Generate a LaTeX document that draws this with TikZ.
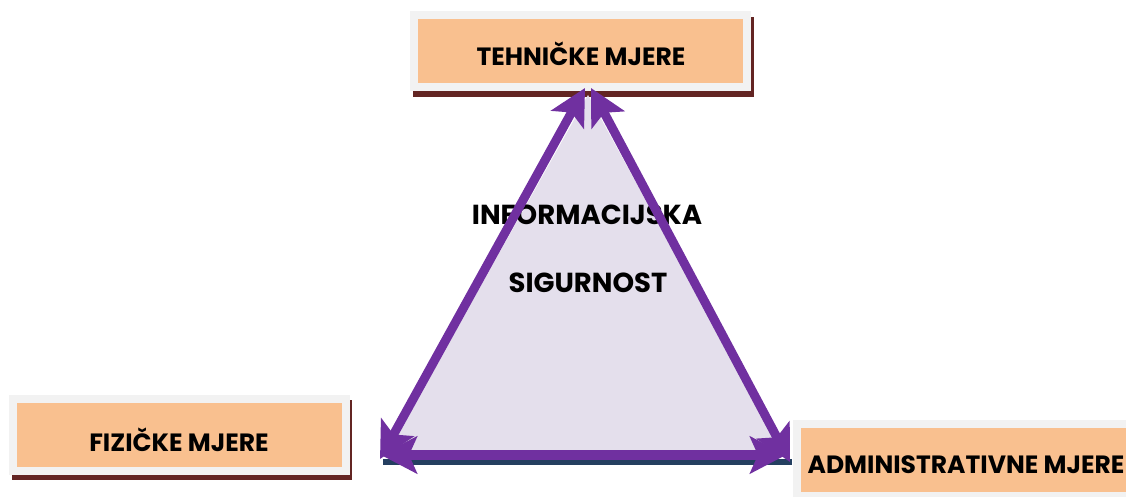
\documentclass[tikz,border=0pt]{standalone}
\usepackage{fontspec}
\setmainfont{Poppins}
\usetikzlibrary{arrows.meta}
\definecolor{boxorange}{HTML}{F9C08F}
\definecolor{boxgray}{HTML}{F2F2F2}
\definecolor{boxshadow}{HTML}{632523}
\definecolor{tripurple}{HTML}{7030A0}
\definecolor{trifill}{HTML}{E4DFEC}
\definecolor{navyshadow}{HTML}{243F60}
\tikzset{
  mbox/.style={draw=boxgray, line width=8pt, fill=boxorange, minimum width=333pt, minimum height=72pt, inner sep=0pt},
  lbl/.style={font=\bfseries\fontsize{25}{28}\selectfont, inner sep=0pt},
  bigarrow/.style={draw=tripurple, line width=9pt, {Stealth[length=36pt,width=37pt,inset=8pt]}-{Stealth[length=36pt,width=37pt,inset=8pt]}},
  midtext/.style={font=\bfseries\fontsize{27.5}{30}\selectfont, inner sep=0pt},
}
\begin{document}
\begin{tikzpicture}[x=1pt,y=-1pt]
\useasboundingbox (0,0) rectangle (1126,497);
% shadows
\fill[boxshadow] (413,17) rectangle (754,97);
\fill[boxshadow] (12,400) rectangle (352,480);
\fill[boxshadow] (796,425) rectangle (1136,505);
% boxes
\node[mbox] (tech) at (580.5,51) {};
\node[mbox] (fiz) at (179,435) {};
\node[mbox] (adm) at (963.5,459.5) {};
\node[lbl] (techt) at (581,54) {TEHNIČKE MJERE};
\node[lbl] (fizt) at (179,440) {FIZIČKE MJERE};
\node[lbl] (admt) at (966,465) {ADMINISTRATIVNE MJERE};
% triangle
\coordinate (apexl) at (585,88);
\coordinate (apexr) at (591,88);
\coordinate (bl) at (380,459);
\coordinate (br) at (790,462);
\coordinate (bbl) at (381,455);
\coordinate (bbr) at (786,455);
\fill[navyshadow] (383,459) rectangle (792,465);
\fill[trifill] (588,95) -- (386,455) -- (785,455) -- cycle;
\node[midtext] (info) at (587,215) {INFORMACIJSKA};
\node[midtext] (sig) at (588,283) {SIGURNOST};
% arrows
\draw[bigarrow] (apexl) -- (bl);
\draw[bigarrow] (apexr) -- (br);
\draw[bigarrow, line width=10pt] (bbl) -- (bbr);
\end{tikzpicture}
\end{document}
